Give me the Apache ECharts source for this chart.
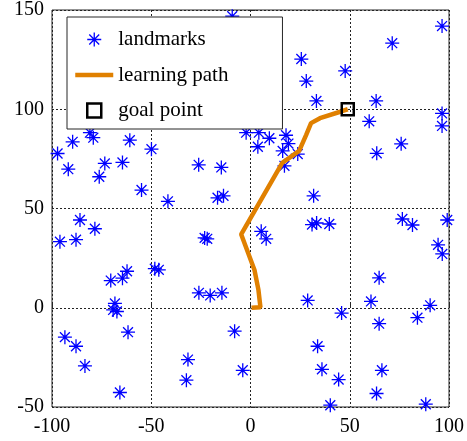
<!DOCTYPE html>
<html>
<head>
<meta charset="utf-8">
<script src="https://cdn.jsdelivr.net/npm/echarts@6/dist/echarts.min.js"></script>
<style>
html, body { margin: 0; padding: 0; background: #fff; }
#chartArea { width: 467px; height: 441px; }
</style>
</head>
<body>
<div id="chartArea"></div>
<script>
// landmark positions, [x, y]
var landmarks = [
    [-9.2, 146.9], [25.6, 125.3], [28.1, 114.2], [47.7, 119.3], [33.2, 104.2],
    [71.4, 133.3], [96.5, 141.9], [63.3, 104.2], [59.8, 93.9], [96.5, 97.9],
    [96.5, 91.6], [75.9, 82.6], [63.6, 77.8], [23.8, 77.4], [16.2, 79],
    [19.1, 82.7], [17.9, 86.9], [9.5, 85.4], [3.7, 81.1], [4.2, 88.2],
    [-2.2, 88.2], [17.1, 71.5], [-14.7, 70.7], [-26.1, 72], [-97.2, 77.7],
    [-89.6, 83.6], [-79.2, 85.7], [-80.9, 88.2], [-60.8, 84.4], [-49.9, 79.9],
    [-91.8, 69.8], [-73.4, 72.7], [-64.5, 73.2], [-76.2, 66], [-54.9, 59.3],
    [-41.6, 53.6], [-16.6, 55.4], [-13.6, 56.4], [-85.9, 44.2], [-78.4, 39.8],
    [-96, 33.3], [-87.9, 34.3], [-23.1, 35.2], [-21.8, 34.7], [5.4, 38.5],
    [7.9, 34.7], [-70.4, 13.7], [-64.5, 14.9], [-62.2, 18.4], [-48.2, 19.7],
    [-46.2, 19.1], [-26, 7.5], [-20.3, 6.2], [-14.4, 7.5], [31.8, 56.4],
    [31, 41.9], [33.3, 42.7], [39.7, 42.2], [76.5, 44.7], [81.6, 41.7],
    [99.1, 44.2], [94.5, 31.7], [96.6, 27.1], [64.8, 15.1], [28.8, 3.7],
    [60.7, 3.2], [-68.3, 2.2], [-69.2, -1.1], [-67.3, -1.9], [-61.7, -12.3],
    [-93.5, -14.8], [-87.9, -19.4], [-83.4, -29.3], [-65.8, -42.7], [-8, -11.8],
    [-31.5, -26.1], [-32.3, -36.5], [-3.9, -31.5], [45.9, -2.7], [90.5, 1.2],
    [84.1, -5], [64.8, -8], [33.8, -19.4], [36, -31], [44.4, -36.2],
    [66.2, -31.5], [63.5, -43.2], [40.2, -49.1], [88.3, -48.6]
];

// learning path, start to goal
var learningPath = [
    [0.5, 0], [5, 0.3], [4, 9], [2, 19], [-4.7, 37], [16, 73], [24.5, 79],
    [28, 87], [30.5, 93], [35, 95.5], [46, 99], [49, 100]
];

var goalPoint = [[49, 100]];

var seriesNames = ['landmarks', 'learning path', 'goal point'];

var starIcon = 'path://M0,5L10,5M5,0L5,10M1.46,1.46L8.54,8.54M8.54,1.46L1.46,8.54';
var squareIcon = 'path://M0,0L10,0L10,10L0,10Z';
var serif = 'Liberation Serif';
var blue = '#0000ff';
var orange = '#e08000';

var axisCommon = {
    interval: 50,
    axisLine: { show: false },
    axisTick: { show: true, inside: true, length: 5, lineStyle: { color: '#262626' } },
    axisLabel: { color: '#000', fontFamily: serif, fontSize: 20 },
    splitLine: { show: true, lineStyle: { color: '#222', type: [2, 2], width: 1 } }
};

var option = {
    animation: false,
    backgroundColor: '#fff',
    grid: {
        left: 52, right: 17, top: 9, bottom: 34,
        show: true, borderColor: '#262626', borderWidth: 1, backgroundColor: '#fff'
    },
    legend: {
        orient: 'vertical',
        left: 67, top: 17,
        padding: [12, 54, 8, 6],
        itemWidth: 38, itemHeight: 14,
        itemGap: 14.5,
        backgroundColor: '#fff',
        borderColor: '#262626', borderWidth: 1,
        textStyle: { color: '#000', fontFamily: serif, fontSize: 21 },
        data: [
            { name: seriesNames[0], icon: starIcon,
              itemStyle: { color: 'transparent', borderColor: blue, borderWidth: 1.3 } },
            { name: seriesNames[1],
              lineStyle: { color: orange, width: 4.5 },
              itemStyle: { color: 'transparent', borderColor: 'transparent', borderWidth: 0, opacity: 0 } },
            { name: seriesNames[2], icon: squareIcon,
              itemStyle: { color: 'transparent', borderColor: '#000', borderWidth: 2.5 } }
        ]
    },
    series: [
        {
            name: seriesNames[0],
            type: 'scatter',
            data: landmarks,
            symbol: starIcon,
            symbolSize: 14,
            symbolKeepAspect: true,
            itemStyle: { color: 'transparent', borderColor: blue, borderWidth: 1.3, opacity: 1 },
            z: 2
        },
        {
            name: seriesNames[1],
            type: 'line',
            data: learningPath,
            symbol: 'none',
            showSymbol: false,
            lineStyle: { color: orange, width: 4.5 },
            itemStyle: { color: orange },
            z: 3
        },
        {
            name: seriesNames[2],
            type: 'scatter',
            data: goalPoint,
            symbol: squareIcon,
            symbolSize: 12,
            symbolKeepAspect: true,
            itemStyle: { color: 'transparent', borderColor: '#000', borderWidth: 2.5, opacity: 1 },
            z: 4
        }
    ]
};

option.xAxis = Object.assign({}, axisCommon, {
    type: 'value', min: -100, max: 100,
    axisLabel: Object.assign({}, axisCommon.axisLabel, { margin: 10 })
});
option.yAxis = Object.assign({}, axisCommon, {
    type: 'value', min: -50, max: 150,
    axisLabel: Object.assign({}, axisCommon.axisLabel, { margin: 8 })
});

var myChart = echarts.init(document.getElementById('chartArea'));
myChart.setOption(option);
</script>
</body>
</html>
